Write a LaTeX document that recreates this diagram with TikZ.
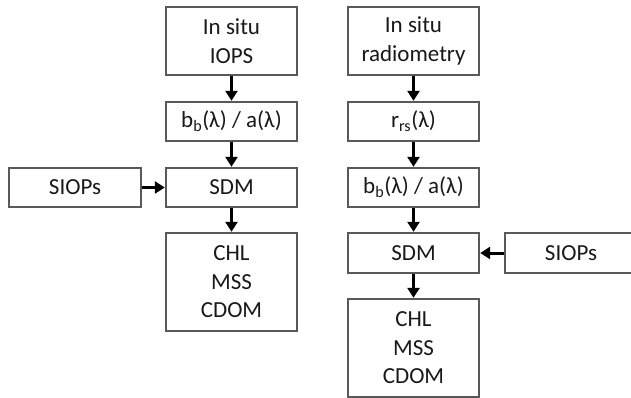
\documentclass[tikz,border=0pt]{standalone}
\usepackage{fontspec}
\setmainfont{Carlito}
\usetikzlibrary{arrows.meta}
\tikzset{
  box/.style={draw=black!65, line width=1.2pt, fill=white, align=center, inner sep=0pt,
    font=\fontsize{23}{28.5}\selectfont, text=black!90},
  arr/.style={line width=3pt, -{Triangle[length=10pt,width=12pt]}, black, shorten >=0.6pt}
}
\newcommand{\lam}{λ}
\begin{document}
\begin{tikzpicture}[x=1pt,y=-1pt]
\useasboundingbox (0,0) rectangle (631,398);
\clip (0,0) rectangle (631,398);
% left column
\node[box, minimum width=131pt, minimum height=68pt] (l1) at (231.5,41) {In situ\\IOPS};
\node[box, minimum width=131pt, minimum height=39pt] (l2) at (231.5,121.5) {b\textsubscript{b}(\lam) / a(\lam)};
\node[box, minimum width=131pt, minimum height=39pt] (l3) at (231.5,187.5) {SDM};
\node[box, minimum width=131pt, minimum height=98pt] (l4) at (231.5,282) {CHL\\MSS\\CDOM};
\node[box, minimum width=132pt, minimum height=39pt] (ls) at (75,187.5) {SIOPs};
% right column
\node[box, minimum width=131pt, minimum height=68pt] (r1) at (413.5,41) {In situ\\radiometry};
\node[box, minimum width=131pt, minimum height=39pt] (r2) at (413.5,121.5) {r\textsubscript{rs}(\lam)};
\node[box, minimum width=131pt, minimum height=39pt] (r3) at (413.5,187.5) {b\textsubscript{b}(\lam) / a(\lam)};
\node[box, minimum width=131pt, minimum height=40pt] (r4) at (413.5,253) {SDM};
\node[box, minimum width=131pt, minimum height=98pt] (r5) at (413.5,348) {CHL\\MSS\\CDOM};
\node[box, minimum width=132pt, minimum height=40pt] (rs) at (571,253) {SIOPs};
% arrows
\draw[arr] (l1.south) -- (l2.north);
\draw[arr] (l2.south) -- (l3.north);
\draw[arr] (l3.south) -- (l4.north);
\draw[arr] (ls.east) -- (l3.west);
\draw[arr] (r1.south) -- (r2.north);
\draw[arr] (r2.south) -- (r3.north);
\draw[arr] (r3.south) -- (r4.north);
\draw[arr] (r4.south) -- (r5.north);
\draw[arr] (rs.west) -- (r4.east);
\end{tikzpicture}
\end{document}
